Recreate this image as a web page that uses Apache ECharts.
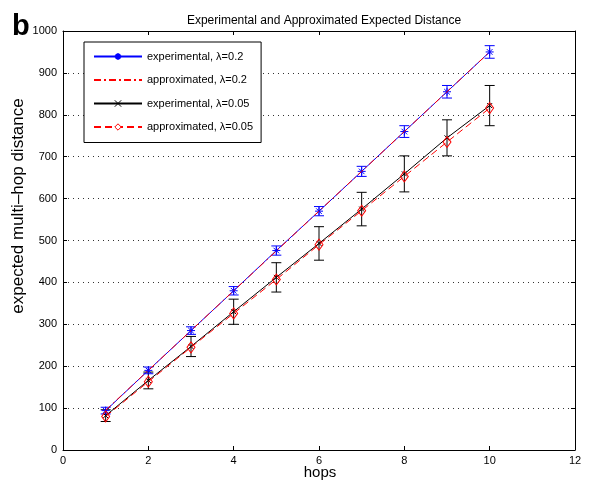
<!DOCTYPE html>
<html><head><meta charset="utf-8">
<script src="https://cdn.jsdelivr.net/npm/echarts@6/dist/echarts.min.js"></script>
<style>html,body{margin:0;padding:0;background:#fff}#c{width:589px;height:480px}</style>
</head><body><div id="c"></div>
<script>
var hops = [1,2,3,4,5,6,7,8,9,10];
var exp02 = [94,190,285,380,476,570,665,760,855,950];
var exp02Err = [8,8,9,10,11,11,12,14,15,15];
var approx02 = [95,190,285,380,475,570,665,760,855,950];
var exp005 = [82,166,247,330,412,493,575,659,745,822];
var exp005Err = [14,20,24,30,35,40,40,43,43,48];
var approx005 = [80,163,245,326,407,490,571,653,735,816];
var xTicks = [0,2,4,6,8,10,12];
var yTicks = [0,100,200,300,400,500,600,700,800,900,1000];

var FONT = 'Liberation Sans, Arial, sans-serif';
function pairs(xs, ys){ return xs.map(function(x,i){return [x, ys[i]];}); }
function errData(xs, ys, es){ return xs.map(function(x,i){return [x, ys[i]-es[i], ys[i]+es[i]];}); }
function errSeries(data, color){
  return {
    type:'custom', data:data, z:3, silent:true,
    renderItem:function(params, api){
      var x = api.value(0), lo = api.value(1), hi = api.value(2);
      var p1 = api.coord([x, lo]), p2 = api.coord([x, hi]);
      var w = 5;
      var st = {stroke:color, lineWidth:1};
      return {type:'group', children:[
        {type:'line', shape:{x1:p1[0],y1:p1[1],x2:p2[0],y2:p2[1]}, style:st},
        {type:'line', shape:{x1:p1[0]-w,y1:p1[1],x2:p1[0]+w,y2:p1[1]}, style:st},
        {type:'line', shape:{x1:p2[0]-w,y1:p2[1],x2:p2[0]+w,y2:p2[1]}, style:st}
      ]};
    }
  };
}
var star = 'path://M0,-1L0,1M-1,0L1,0M-0.7,-0.7L0.7,0.7M-0.7,0.7L0.7,-0.7';
var cross = 'path://M-1,-1L1,1M-1,1L1,-1';

var chart = echarts.init(document.getElementById('c'), null, {renderer:'canvas'});
function lbl(show, margin){
  return {show:show, color:'#000', fontSize:11, fontFamily:FONT, margin:margin,
          formatter:function(v){return String(v);}};
}
var line = {show:true, onZero:false, lineStyle:{color:'#000', width:1}};
var tick = {show:true, inside:true, length:4, lineStyle:{color:'#000'}};
chart.setOption({
  animation:false,
  backgroundColor:'#fff',
  title:[
    {text:'Experimental and Approximated Expected Distance', left:319, top:10, textAlign:'center',
     textStyle:{fontSize:12, fontWeight:'normal', color:'#000', fontFamily:FONT}},
    {text:'b', left:7, top:7, textStyle:{fontSize:29, fontWeight:'bold', color:'#000', fontFamily:FONT}}
  ],
  graphic:[
    {type:'text', x:18, y:206, rotation:Math.PI/2,
     style:{text:'expected multi\u2013hop distance', fontSize:17, fontFamily:FONT, fill:'#000',
            align:'center', verticalAlign:'middle'}},
    {type:'text', x:320, y:473,
     style:{text:'hops', fontSize:15, fontFamily:FONT, fill:'#000',
            align:'center', verticalAlign:'middle'}}
  ],
  grid:{left:63, right:14, top:31, bottom:30, outerBoundsMode:'none', containLabel:false},
  legend:{
    data:[{name:'experimental, λ=0.2'},
          {name:'approximated, λ=0.2', itemStyle:{opacity:0}},
          {name:'experimental, λ=0.05', itemStyle:{borderWidth:1}},
          {name:'approximated, λ=0.05', itemStyle:{color:'#fff', borderColor:'#ff0000', borderWidth:1}}],
    orient:'vertical', left:84, top:42, backgroundColor:'#fff',
    borderColor:'#000', borderWidth:1, padding:[9,8,10,9], itemGap:12.5,
    itemWidth:48, itemHeight:8,
    textStyle:{fontSize:11, color:'#000', fontFamily:FONT}
  },
  xAxis:[
    {type:'value', min:0, max:12, interval:2, position:'bottom',
      axisLine:line, axisTick:tick, splitLine:{show:false}, axisLabel:lbl(true,5)},
    {type:'value', min:0, max:12, interval:2, position:'top',
      axisLine:line, axisTick:tick, splitLine:{show:false}, axisLabel:lbl(false,5)}
  ],
  yAxis:[
    {type:'value', min:0, max:1000, interval:100, position:'left',
      axisLine:line, axisTick:tick,
      splitLine:{show:true, lineStyle:{type:[1,4], color:'#333'}},
      axisLabel:lbl(true,6)},
    {type:'value', min:0, max:1000, interval:100, position:'right',
      axisLine:line, axisTick:tick, splitLine:{show:false}, axisLabel:lbl(false,6)}
  ],
  series:[
    errSeries(errData(hops, exp02, exp02Err), '#0000ff'),
    errSeries(errData(hops, exp005, exp005Err), '#000'),
    {name:'experimental, λ=0.2', type:'line', data:pairs(hops, exp02), z:4,
     symbol:star, symbolSize:8, lineStyle:{color:'#0000ff', width:1},
     itemStyle:{color:'#0000ff', borderColor:'#0000ff', borderWidth:1}},
    {name:'approximated, λ=0.2', type:'line', data:pairs(hops, approx02), z:5,
     symbol:'none', lineStyle:{color:'#ff0000', width:1, type:[7,3,2,3]},
     itemStyle:{color:'#ff0000'}},
    {name:'experimental, λ=0.05', type:'line', data:pairs(hops, exp005), z:4,
     symbol:cross, symbolSize:5, lineStyle:{color:'#000', width:1},
     itemStyle:{color:'#000', borderColor:'#000', borderWidth:1}},
    {name:'approximated, λ=0.05', type:'line', data:pairs(hops, approx005), z:5,
     symbol:'diamond', symbolSize:[8,11], lineStyle:{color:'#ff0000', width:1, type:[7,4]},
     itemStyle:{color:'rgba(255,255,255,0)', borderColor:'#ff0000', borderWidth:1}}
  ]
});
</script></body></html>
